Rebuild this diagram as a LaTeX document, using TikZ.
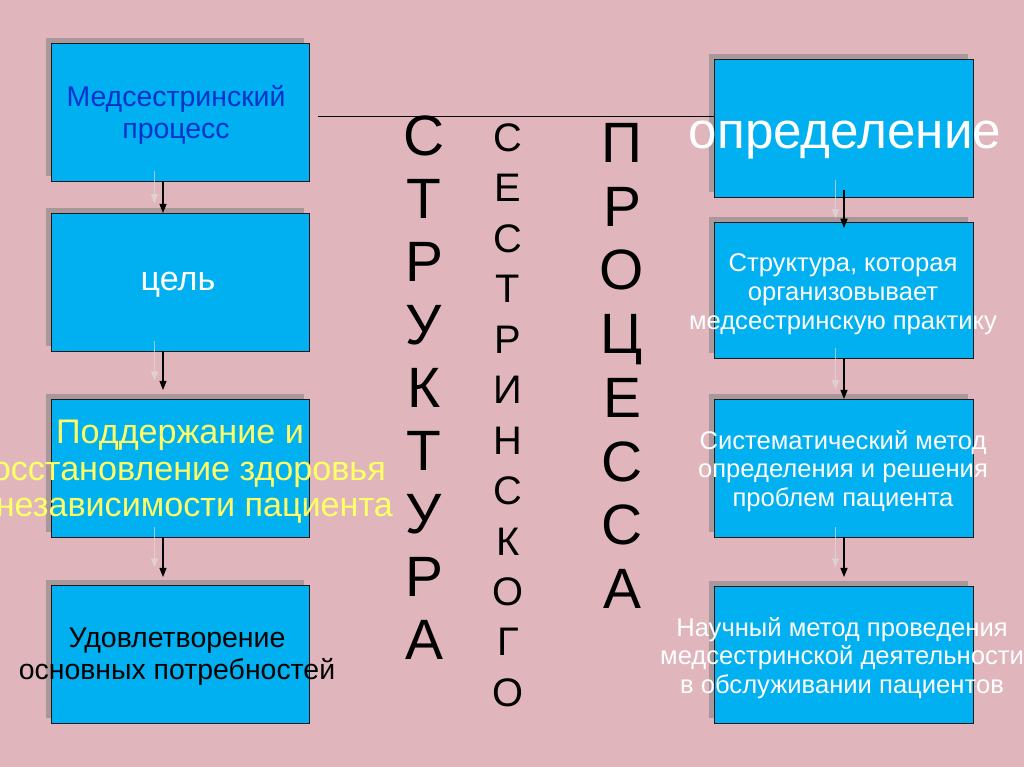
\documentclass[tikz,border=0pt]{standalone}
\usepackage{fontspec}
\setmainfont{Liberation Sans}
\usetikzlibrary{arrows.meta,shadows}
\newcommand\pxu{0.703125pt}
\definecolor{bgpink}{RGB}{224,182,188}
\definecolor{boxcyan}{RGB}{0,176,240}
\definecolor{boxshadow}{RGB}{168,152,155}
\definecolor{txtblue}{RGB}{0,51,204}
\definecolor{txtyellow}{RGB}{255,255,102}
\definecolor{arrshadow}{RGB}{222,216,218}
\begin{document}
\begin{tikzpicture}[x=0.703125pt,y=-0.703125pt,
  box/.style={draw={rgb,255:red,25;green,25;blue,25}, line width=0.6pt, fill=boxcyan,
    minimum width={258*\pxu}, minimum height={138*\pxu}, inner sep=0pt, outer sep=0pt,
    drop shadow={shadow xshift=-3.5pt, shadow yshift=3.5pt, fill=boxshadow, opacity=1}},
  conn/.style={-{Triangle[length=6.5pt,width=5pt]}, line width=0.9pt, black},
  connshadow/.style={-{Triangle[length=6.5pt,width=5pt]}, line width=0.9pt, color=arrshadow,
    opacity=0.7, transform canvas={xshift=-6pt, yshift=6.7pt}},
  txt/.style={align=center, inner sep=0pt},
  letters/.style={align=center, inner sep=0pt, anchor=north, text=black}
]
\path[use as bounding box] (0,0) rectangle (1024,767);
\clip (0,0) rectangle (1024,767);
\fill[bgpink] (0,0) rectangle (1024,767);

% left column
\node[box] (b1) at (180,112) {};
\node[box] (b2) at (180,282) {};
\node[box] (b3) at (180,468) {};
\node[box] (b4) at (180,654) {};
% right column
\node[box, minimum width={259*\pxu}] (r1) at (843.5,128) {};
\node[box, minimum width={259*\pxu}, minimum height={136*\pxu}] (r2) at (843.5,290) {};
\node[box, minimum width={259*\pxu}] (r3) at (843.5,468) {};
\node[box, minimum width={259*\pxu}, minimum height={137*\pxu}] (r4) at (843.5,654.5) {};

% arrow columns
\coordinate (la) at (163,0);
\coordinate (ra) at (844,0);

% horizontal line
\coordinate (hl) at (318,116);
\draw[line width=0.6pt, black] (hl) -- (hl -| r1.west);

% arrow shadows
\draw[connshadow] (b1.south -| la) -- (b2.north -| la);
\draw[connshadow, shorten >=6.3pt] (b2.south -| la) -- (b3.north -| la);
\draw[connshadow, shorten >=5.6pt] (b3.south -| la) -- (b4.north -| la);
\draw[connshadow, shorten <=-5pt, shorten >=-4.2pt] (r1.south -| ra) -- (r2.north -| ra);
\draw[connshadow] (r2.south -| ra) -- (r3.north -| ra);
\draw[connshadow, shorten >=6.3pt] (r3.south -| ra) -- (r4.north -| ra);
% arrows
\draw[conn] (b1.south -| la) -- (b2.north -| la);
\draw[conn, shorten >=6.3pt] (b2.south -| la) -- (b3.north -| la);
\draw[conn, shorten >=5.6pt] (b3.south -| la) -- (b4.north -| la);
\draw[conn, shorten <=-5pt, shorten >=-4.2pt] (r1.south -| ra) -- (r2.north -| ra);
\draw[conn] (r2.south -| ra) -- (r3.north -| ra);
\draw[conn, shorten >=6.3pt] (r3.south -| ra) -- (r4.north -| ra);

% texts in boxes
\node[txt, text=txtblue, font=\fontsize{20}{22.1}\selectfont] (t1) at (176,115) {Медсестринский\\процесс};
\node[txt, text=white, font=\fontsize{24}{27}\selectfont] (t2) at (178,285) {цель};
\node[txt, text=txtyellow, font=\fontsize{24}{25.7}\selectfont] (t3) at (180,472) {Поддержание и\\восстановление здоровья\\и независимости пациента};
\node[txt, text=black, font=\fontsize{20}{22.5}\selectfont] (t4) at (177,657) {Удовлетворение\\основных потребностей};

\node[txt, text=white, font=\fontsize{36}{40}\selectfont] (u1) at (845,140) {определение};
\node[txt, text=white, font=\fontsize{18}{20.4}\selectfont] (u2) at (843,294) {Структура, которая\\организовывает\\медсестринскую практику};
\node[txt, text=white, font=\fontsize{18}{20.1}\selectfont] (u3) at (843,471) {Систематический метод\\определения и решения\\проблем пациента};
\node[txt, text=white, font=\fontsize{18}{20.1}\selectfont] (u4) at (842,658) {Научный метод проведения\\медсестринской деятельности\\в обслуживании пациентов};

% vertical words
\node[letters, font=\fontsize{40}{44.3}\selectfont] (w1) at (424,115) {С\\Т\\Р\\У\\К\\Т\\У\\Р\\А};
\node[letters, font=\fontsize{28}{35.5}\selectfont] (w2) at (508,123) {С\\Е\\С\\Т\\Р\\И\\Н\\С\\К\\О\\Г\\О};
\node[letters, font=\fontsize{40}{44.8}\selectfont] (w3) at (622,123) {П\\Р\\О\\Ц\\Е\\С\\С\\А};
\end{tikzpicture}
\end{document}
